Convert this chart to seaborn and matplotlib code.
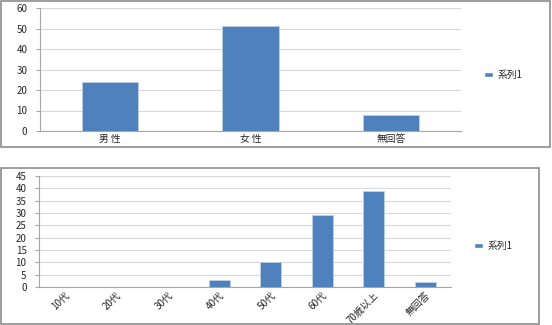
import matplotlib
matplotlib.use("Agg")
import matplotlib.pyplot as plt
import seaborn as sns
import pandas as pd
from matplotlib.patches import Rectangle, Patch

sns.set_theme(style="white")
plt.rcParams['font.family'] = ['Noto Sans CJK JP', 'DejaVu Sans']

gender_cats = ["男性", "女性", "無回答"]
gender_vals = [24, 51, 8]
age_cats = ["10代", "20代", "30代", "40代", "50代", "60代", "70歳以上", "無回答"]
age_vals = [0, 0, 0, 3, 10, 29, 39, 2]
series_name = "系列1"

W, H = 552, 325
fig = plt.figure(figsize=(W / 100, H / 100), dpi=100)
BAR = "#4F81BD"
GRID = "#D9D9D9"
AXC = "#A6A6A6"

def px_axes(l, t, r, b):
    return fig.add_axes([l / W, 1 - b / H, (r - l) / W, (b - t) / H])

def frame(l, t, r, b):
    fig.patches.append(Rectangle((l / W, 1 - b / H), (r - l) / W, (b - t) / H,
                                 transform=fig.transFigure, fill=False,
                                 edgecolor="#8C8C8C", linewidth=1.2))

def style(ax, cats, ymax, step, rot):
    n = len(cats)
    ax.set_xlim(-0.5, n - 0.5)
    ax.set_ylim(0, ymax)
    ax.set_yticks(range(0, ymax + 1, step))
    ax.yaxis.grid(True, color=GRID, linewidth=0.8)
    ax.set_axisbelow(True)
    for s in ["top", "right"]:
        ax.spines[s].set_visible(False)
    for s in ["left", "bottom"]:
        ax.spines[s].set_color(AXC)
        ax.spines[s].set_linewidth(0.8)
    ax.set_xlabel("")
    ax.set_ylabel("")
    ax.set_xticks([i - 0.5 for i in range(n + 1)], minor=True)
    ax.tick_params(axis="x", which="major", length=0, labelsize=7, pad=2)
    ax.tick_params(axis="x", which="minor", length=3, color=AXC, width=0.8)
    ax.tick_params(axis="y", which="major", length=3, color=AXC, width=0.8,
                   labelsize=7, pad=6, left=True)
    if rot:
        for lab in ax.get_xticklabels():
            lab.set_rotation(45)
            lab.set_ha("right")
            lab.set_rotation_mode("anchor")

# top chart
frame(1, 1, 550, 147)
ax1 = px_axes(40, 8, 461, 131)
df1 = pd.DataFrame({"cat": gender_cats, "val": gender_vals})
sns.barplot(data=df1, x="cat", y="val", ax=ax1, color=BAR, width=0.4,
            edgecolor="#BFD0E6", linewidth=0.6, saturation=1)
style(ax1, gender_cats, 60, 10, False)
ax1.set_xticks(range(len(gender_cats)))
ax1.set_xticklabels([" ".join(c) if len(c) == 2 else c for c in gender_cats])
fig.legend(handles=[Patch(facecolor=BAR)], labels=[series_name], loc="center left",
           bbox_to_anchor=(475 / W, 1 - 75 / H), frameon=False, fontsize=7,
           handlelength=0.9, handleheight=0.5, handletextpad=0.5)

# bottom chart
frame(1, 168, 539, 324)
ax2 = px_axes(39, 176, 451, 287)
df2 = pd.DataFrame({"cat": age_cats, "val": age_vals})
sns.barplot(data=df2, x="cat", y="val", ax=ax2, color=BAR, width=0.4,
            edgecolor="#BFD0E6", linewidth=0.6, saturation=1)
style(ax2, age_cats, 45, 5, True)
fig.legend(handles=[Patch(facecolor=BAR)], labels=[series_name], loc="center left",
           bbox_to_anchor=(465 / W, 1 - 246 / H), frameon=False, fontsize=7,
           handlelength=0.9, handleheight=0.5, handletextpad=0.5)

fig.savefig("out.png", dpi=100)
